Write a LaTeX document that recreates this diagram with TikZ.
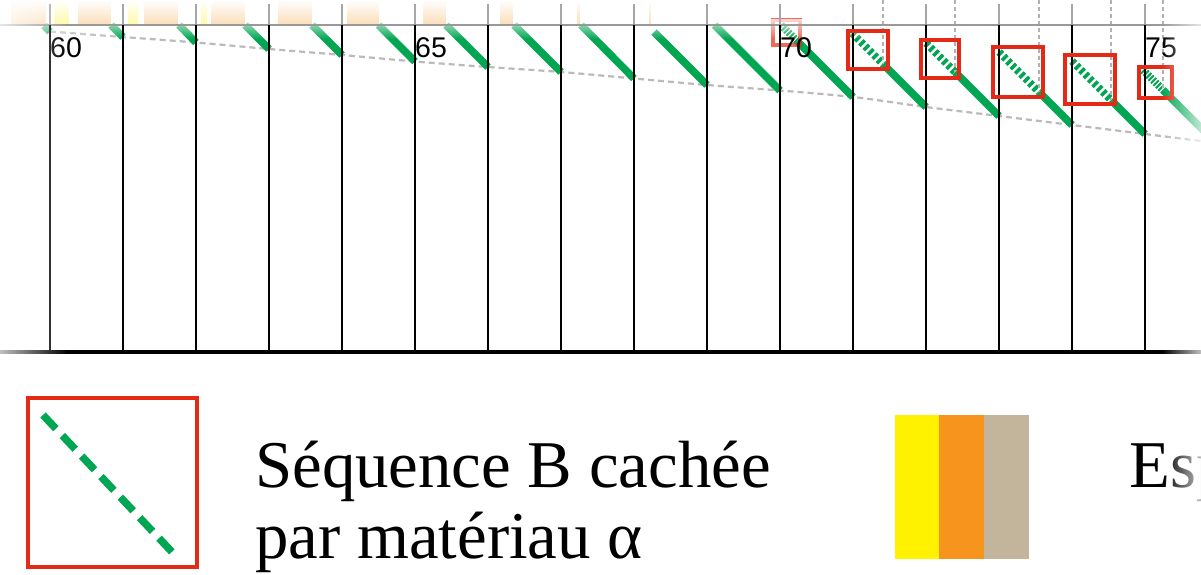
\documentclass[tikz,border=0pt]{standalone}
\usepackage{fontspec}
\setmainfont{Liberation Serif}
\newfontfamily\numfont{Liberation Sans}
\usetikzlibrary{fadings}
\tikzfading[name=fadeR, left color=transparent!0, right color=transparent!100]
\tikzfading[name=fadeL, left color=transparent!100, right color=transparent!0]
\tikzfading[name=fadeD, top color=transparent!25, bottom color=transparent!100]
\tikzfading[name=fadeU, top color=transparent!100, bottom color=transparent!0]
\definecolor{gr}{RGB}{0,166,81}
\definecolor{rd}{RGB}{228,42,22}
\definecolor{orng}{RGB}{247,148,29}
\definecolor{yel}{RGB}{255,242,0}
\definecolor{tanc}{RGB}{194,181,155}
\begin{document}
\begin{tikzpicture}[x=1pt,y=-1pt,
  gseg/.style={draw=gr, line width=7.5pt},
  hidseg/.style={draw=gr, line width=7.5pt, dash pattern=on 3.6pt off 2.6pt},
  finehid/.style={draw=gr, line width=7.5pt, dash pattern=on 2pt off 1.5pt},
  hidbox/.style={draw=rd, line width=4.5pt},
  vline/.style={draw=black, line width=2.4pt},
  guide/.style={draw=black!27, line width=2.2pt, dash pattern=on 6pt off 4pt},
  tickline/.style={draw=black!30, line width=1.1pt, dash pattern=on 4pt off 3pt},
  num/.style={anchor=base west, inner sep=0pt, font=\numfont\fontsize{28.5}{28}\selectfont},
  legtext/.style={anchor=base west, inner sep=0pt, font=\fontsize{66.8}{70}\selectfont}]
\useasboundingbox (0,0) rectangle (1201,574);
\clip (0,0) rectangle (1201,574);
\fill[white] (0,0) rectangle (1201,574);

% guide curve through the ends of the segments
\draw[guide] plot[smooth, tension=0.5] coordinates {(50,31.5) (123,37) (196,42.5) (269,49) (342,55) (415,61.5) (488,67) (561,72) (634,78.5) (707,85) (780,90.5) (853,97) (926,107) (999,116) (1072,125) (1145,134) (1201,141)};

% visible green segments
\foreach \a/\b/\c/\d in {44/25.5/50/31.5, 111/25/123/37, 179/25/196/42.5, 245/25/269/49, 312/25/342/55, 378.5/25/415/61.5, 446/25/488/67, 514/25/561/72, 581/25/634/78.5, 654/32/707/85, 714.5/25/780/90.5}
  \draw[gseg] (\a,\b) -- (\c,\d);

% segments partly hidden
\draw[finehid] (781,25) -- (797,41);
\draw[gseg] (797,41) -- (853,97);
\draw[hidseg] (852,33) -- (883,64);
\draw[gseg] (883,64) -- (926,107);
\draw[hidseg] (926,43) -- (955,72);
\draw[gseg] (955,72) -- (999,116);
\draw[hidseg] (999,52) -- (1039,92);
\draw[gseg] (1039,92) -- (1072,125);
\draw[hidseg] (1072,61) -- (1111,100);
\draw[gseg] (1111,100) -- (1145,134);
\draw[finehid] (1143,70) -- (1163,90);
\draw[gseg] (1163,90) -- (1215,142);
\draw[hidbox, draw opacity=0.7] (773,20) rectangle (800,45);

% fade under the top line
\fill[white, path fading=fadeD] (0,19) rectangle (1201,39);

% faded coloured strip above the top line
\foreach \a/\b in {11/46, 78/111, 144/178, 211/245, 278/312, 347/379, 423/446, 500/513, 577/580, 649/651}
  \fill[orng, fill opacity=0.3, path fading=fadeU] (\a,0) rectangle (\b,24);
\foreach \a/\b in {54/69, 128/138, 201/207}
  \fill[yel, fill opacity=0.35, path fading=fadeU] (\a,0) rectangle (\b,24);
\foreach \x in {50,123,...,1145}
  \draw[black!35, line width=2.2pt] (\x,4) -- (\x,25);

% dashed marks
\draw[tickline] (883,0) -- (883,64);
\draw[tickline] (955,0) -- (955,72);
\draw[tickline] (1039,0) -- (1039,92);
\draw[tickline] (1111,0) -- (1111,100);
\draw[tickline] (1163,0) -- (1163,90);

% frame
\draw[black!40, line width=2.2pt] (0,25) -- (1201,25);
\foreach \x in {50,123,...,1145}
  \draw[vline] (\x,25) -- (\x,352);
\draw[black, line width=3.2pt] (0,352) -- (1201,352);

% hiding boxes
\draw[hidbox] (848,31) rectangle (888,69);
\draw[hidbox] (921,40) rectangle (959,78);
\draw[hidbox] (993,47) rectangle (1043,97);
\draw[hidbox] (1065,55) rectangle (1115,104);
\draw[hidbox] (1139,67) rectangle (1172,98);

% labels
\node[num] (l60) at (50,57) {60};
\node[num] (l65) at (415,57) {65};
\node[num] (l70) at (780,57) {70};
\node[num] (l75) at (1145,57) {75};

% edge fades
\fill[white, path fading=fadeR] (-22,0) rectangle (67,360);
\fill[white, path fading=fadeL] (1162,0) rectangle (1214,360);

% legend
\node[draw=rd, line width=4pt, minimum width=169pt, minimum height=169pt, inner sep=0pt] (legbox) at (112.5,482.5) {};
\draw[draw=gr, line width=7.5pt, dash pattern=on 18.8pt off 9.4pt] (43,415) -- (172,552);
\node[legtext] (seqA) at (255,487) {Séquence B cachée};
\node[legtext] (seqB) at (255,558) {par matériau α};
\fill[yel] (895,415) rectangle (939.3,559.3);
\fill[orng] (939.3,415) rectangle (984,559.3);
\fill[tanc] (984,415) rectangle (1029.3,559.3);
\node[legtext] (esp) at (1129,487) {Esp};
\fill[white, path fading=fadeL] (1162,380) rectangle (1214,574);
\end{tikzpicture}
\end{document}
